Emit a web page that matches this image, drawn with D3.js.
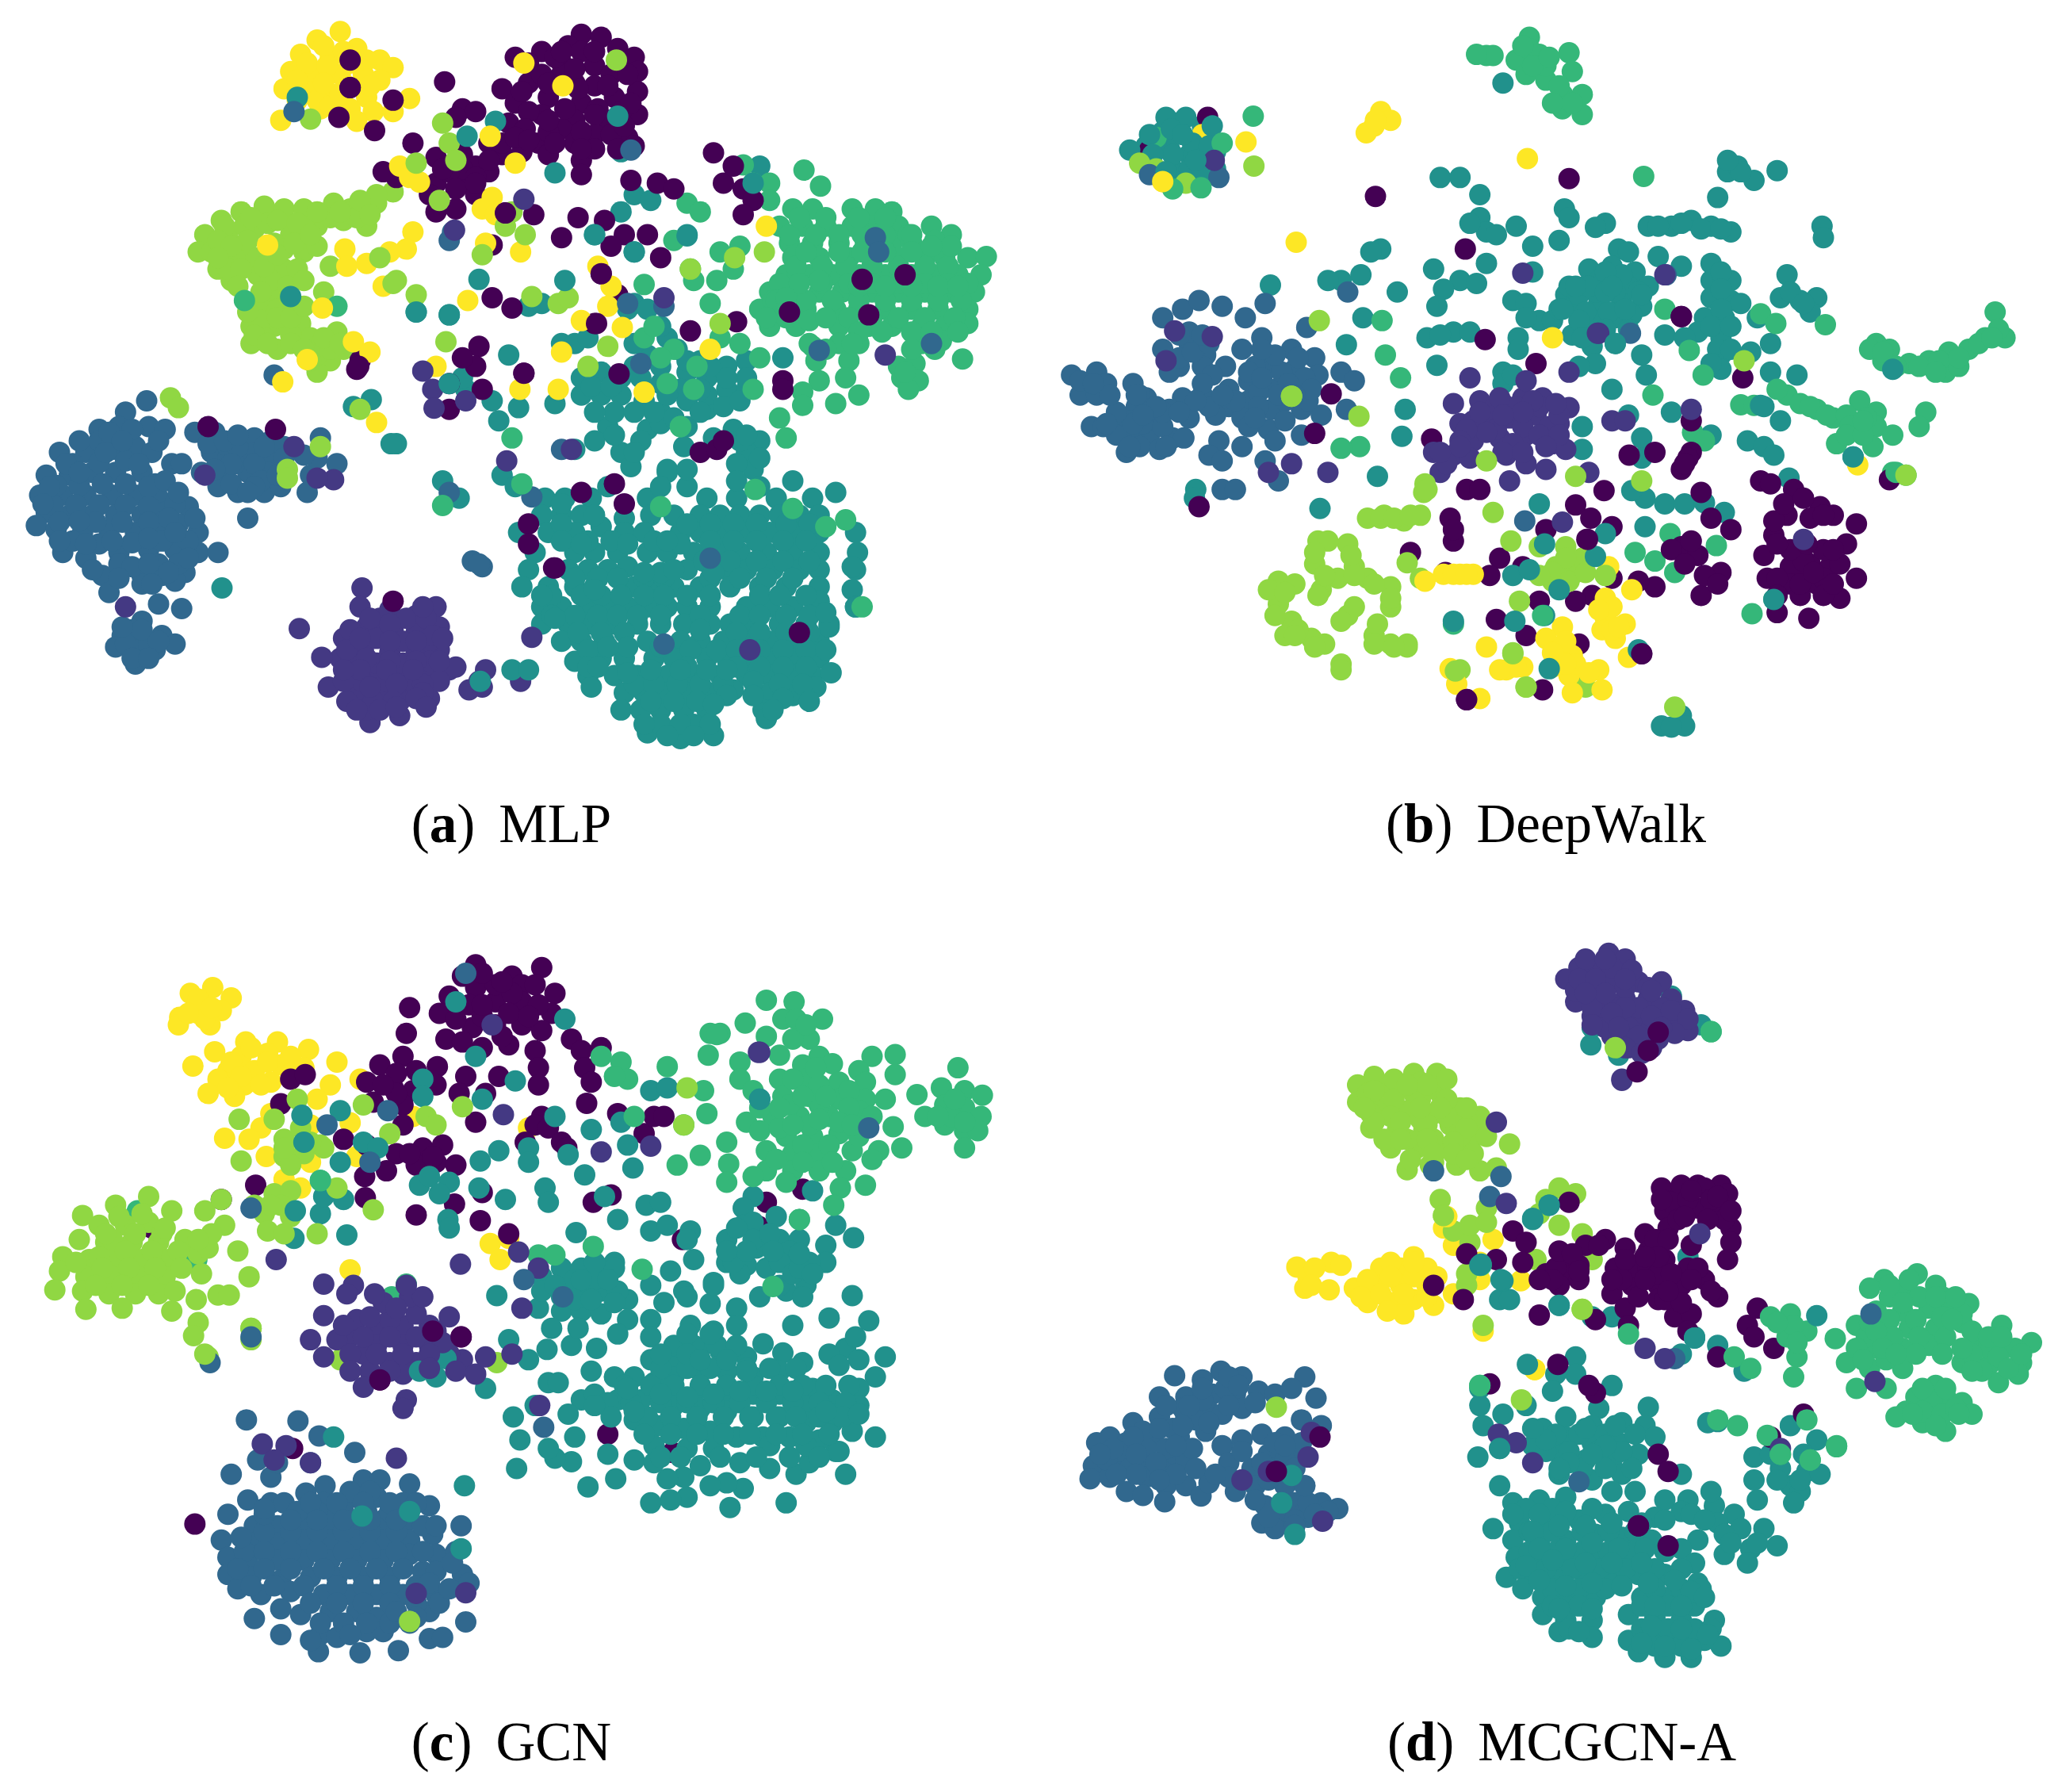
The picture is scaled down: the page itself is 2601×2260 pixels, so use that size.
<!DOCTYPE html>
<html><head><meta charset="utf-8">
<script src="https://cdn.jsdelivr.net/npm/d3@7"></script>
<style>html,body{margin:0;padding:0;background:#fff}svg{display:block}</style></head>
<body><svg id="c" width="2601" height="2260"></svg>
<script>
// ---- Panel (a) MLP
const aTeal=[[825,870],[855,870],[895,870],[920,850],[980,870],[1010,825],[1040,850],[1070,870],[1115,870],[1175,870],[1200,840],[1230,870],[1265,860],[820,900],[850,900],[880,900],[945,905],[985,900],[1020,900],[1060,900],[1090,900],[1120,900],[1150,900],[1180,900],[1210,900],[1240,900],[785,930],[830,930],[870,930],[910,920],[945,930],[975,930],[1030,930],[1060,930],[1095,930],[1130,930],[1165,930],[1200,930],[1240,930],[1295,930],[810,965],[870,965],[900,965],[935,965],[980,965],[1010,965],[1050,965],[1090,965],[1120,965],[1160,965],[1200,965],[1240,965],[1298,965],[800,995],[860,995],[890,995],[920,995],[950,990],[1040,995],[1100,995],[1130,995],[1170,995],[1210,995],[1240,995],[1295,995],[790,1025],[830,1025],[870,1025],[900,1025],[960,1025],[990,1025],[1020,1025],[1060,1025],[1105,1025],[1150,1025],[1190,1025],[1240,1025],[1290,1030],[820,1060],[850,1060],[890,1060],[920,1060],[950,1060],[980,1060],[1010,1060],[1040,1060],[1075,1060],[1130,1060],[1165,1060],[1200,1060],[1240,1050],[1295,1060],[820,1090],[860,1090],[895,1090],[930,1090],[965,1090],[1000,1090],[1035,1090],[1075,1090],[1105,1090],[1140,1090],[1180,1090],[1220,1090],[1255,1090],[850,1120],[880,1120],[915,1120],[980,1120],[1030,1120],[1060,1120],[1095,1120],[1130,1120],[1165,1120],[1200,1120],[1240,1120],[870,1155],[910,1150],[945,1150],[990,1150],[1020,1150],[1070,1150],[1100,1150],[1130,1150],[1165,1150],[1200,1150],[1240,1150],[890,1180],[930,1180],[965,1180],[1010,1180],[1050,1180],[1090,1180],[1130,1180],[1165,1180],[1200,1180],[1230,1180],[1258,1175],[895,1200],[945,1210],[975,1210],[1010,1210],[1040,1210],[1075,1210],[1110,1205],[1165,1210],[1200,1215],[1235,1200],[940,1240],[970,1240],[1000,1240],[1035,1240],[1070,1240],[1155,1240],[980,1280],[1000,1265],[1030,1290],[1050,1265],[1080,1285],[1160,1255],[850,600],[870,600],[890,590],[880,660],[910,650],[940,660],[880,690],[910,690],[940,690],[975,700],[1000,670],[1040,650],[1070,660],[1100,680],[1130,680],[1000,720],[1040,700],[1070,715],[980,750],[1000,740],[1040,745],[920,745],[900,770],[870,785],[940,790],[970,770],[955,815],[1010,820],[1035,780],[1080,765],[1110,750],[1150,770],[1130,790],[1140,820],[1115,810],[1010,590],[1025,610],[1060,630],[980,620],[960,600],[1100,640],[960,530],[1000,570],[950,540],[980,540],[1130,630],[1185,625],[840,705],[785,712],[755,735],[745,700],[725,488],[800,535],[820,530],[770,620],[680,550],[630,545],[705,680],[700,660],[760,830],[780,850],[850,880],[1000,850],[1040,820],[1115,840],[1150,850],[960,340],[940,370],[985,350],[1040,410],[960,440],[940,265],[1150,290],[1140,320],[900,410],[600,775],[592,775],[535,710],[562,698],[670,840],[695,870],[1295,1060],[1290,990],[1255,1095]];
const aTealCore=[[850,915],[1040,915],[1075,915],[1110,915],[1145,915],[1190,915],[1225,915],[850,945],[890,945],[925,945],[1075,945],[1110,945],[1145,945],[1185,945],[1220,945],[1065,980],[1105,980],[1145,980],[1185,980],[1225,980],[870,1010],[905,1010],[935,1010],[975,1010],[1005,1010],[1075,1010],[1120,1010],[1160,1010],[1200,1010],[835,1040],[880,1040],[910,1040],[940,1040],[975,1040],[1005,1040],[1040,1040],[1075,1040],[1150,1040],[1180,1040],[1220,1040],[835,1075],[870,1075],[905,1075],[935,1075],[965,1075],[1000,1075],[1060,1075],[1120,1075],[1150,1075],[1190,1075],[1225,1075],[875,1105],[910,1105],[945,1105],[1115,1105],[1150,1105],[1190,1105],[1225,1105],[890,1135],[1045,1135],[1085,1135],[1115,1135],[1150,1135],[1185,1135],[1220,1135],[890,1165],[1040,1165],[1115,1165],[1150,1165],[1185,1165],[1220,1165],[960,1195],[990,1195],[1025,1195],[1060,1195],[1095,1195],[1180,1195],[1215,1195],[985,1225],[1020,1225],[1055,1225],[895,675],[925,675],[1030,680],[1070,690],[1060,720],[1020,730],[990,720]];
const aTealFill=[[1060,1100],[1000,1130],[950,1130],[920,1130],[905,1165],[950,1175],[985,1170],[1030,1170],[1070,1170],[1100,1170],[1100,1215],[1080,1230],[1140,1190],[1250,1135],[1140,1215],[1185,1220],[1225,1225],[900,1030],[840,1080],[1250,1070],[1080,1000],[1000,1000],[975,1000],[1020,995],[900,900],[880,950],[950,950],[990,945],[1030,950],[1010,945],[820,1040],[1170,1240],[1030,1265],[1075,1265],[975,1265],[1010,1285],[1050,1285],[930,720],[960,720],[900,720],[930,760],[960,790],[1010,690],[1060,680],[1095,710],[1130,660],[1120,700],[1100,660],[1075,640],[1040,630],[1000,640],[970,660],[960,640],[1120,770],[1130,760],[1150,800]];
const aBlue=[[222,700],[190,720],[150,750],[180,745],[225,745],[250,750],[90,790],[130,790],[170,785],[205,780],[230,790],[260,810],[70,830],[105,830],[140,825],[175,825],[215,825],[235,845],[60,865],[95,865],[130,865],[170,865],[205,865],[240,870],[70,895],[105,900],[140,900],[175,900],[215,900],[250,895],[55,918],[85,925],[125,930],[165,925],[205,930],[245,930],[285,885],[300,930],[95,965],[130,975],[180,965],[225,960],[265,960],[300,965],[155,1005],[185,985],[215,1005],[245,1005],[280,1000],[165,1035],[215,1020],[265,1015],[330,965],[275,810],[295,755],[325,755],[320,790],[345,800],[385,765],[410,770],[380,790],[410,795],[340,830],[375,825],[405,825],[360,860],[400,860],[375,905],[305,825],[425,850],[465,860],[470,830],[480,800],[510,810],[485,765],[460,795],[240,1055],[215,1085],[275,1063],[185,1110],[215,1115],[245,1110],[265,1125],[175,1130],[205,1145],[235,1135],[205,1160],[730,990],[715,980],[330,850]];
const aBlueCore=[[150,770],[110,810],[150,808],[190,805],[85,848],[120,848],[155,845],[190,845],[225,850],[80,882],[115,882],[150,882],[190,882],[225,885],[265,880],[90,912],[145,912],[185,912],[225,912],[270,915],[110,945],[150,950],[200,948],[245,945],[285,945],[240,985],[270,985],[355,810],[385,810],[345,780],[395,840],[360,780],[430,780],[200,1130],[225,1125],[200,1100]];
const aBlueFill=[[200,750],[165,755],[240,770],[120,770],[100,810],[75,850],[65,880],[120,825],[160,790],[185,770],[210,810],[250,840],[270,860],[255,905],[225,940],[265,930],[295,905],[120,910],[90,945],[130,950],[170,945],[180,985],[140,995],[200,990],[225,985],[255,1000],[285,975],[230,1020],[180,1010],[315,775],[340,770],[360,760],[400,780],[430,800],[385,850],[350,845],[375,860],[420,830],[350,810],[325,820],[190,1125],[215,1100],[240,1120],[200,1150],[225,1150],[185,1095]];
const aPurple=[[548,1027],[545,1060],[590,1065],[660,1060],[630,1075],[520,1115],[555,1095],[595,1100],[630,1105],[665,1095],[515,1150],[550,1135],[590,1140],[630,1140],[665,1135],[530,1175],[565,1175],[605,1175],[645,1170],[680,1170],[540,1210],[580,1210],[620,1205],[650,1220],[525,1225],[560,1262],[605,1250],[555,1240],[497,1200],[453,1098],[487,1148],[805,1113],[710,1205],[735,1170],[730,1200],[788,1190],[690,1165]];
const aPurpleCore=[[575,1080],[615,1080],[645,1080],[535,1130],[570,1115],[610,1120],[650,1120],[535,1158],[570,1158],[610,1158],[650,1155],[548,1190],[585,1190],[625,1190],[665,1190],[565,1225],[605,1225],[640,1195],[520,1190],[560,1080],[530,1100],[590,1090],[640,1060],[655,1110],[670,1115],[525,1135],[545,1115],[590,1120],[630,1120],[555,1150],[590,1155],[630,1155],[665,1155],[545,1170],[585,1170],[625,1170],[560,1200],[600,1195],[640,1210],[595,1225],[630,1220],[520,1170],[540,1240],[575,1240],[600,1235],[645,1235]];
const aYellow=[[515,55],[480,70],[540,85],[455,95],[500,100],[575,105],[595,118],[440,125],[475,130],[515,130],[550,130],[575,140],[430,155],[470,160],[505,165],[555,170],[485,190],[530,190],[565,195],[595,195],[620,172],[540,212],[425,210],[480,175],[490,80],[520,90],[465,110],[495,115],[530,110],[555,105],[450,140],[490,145],[525,150],[560,150],[450,175],[500,185],[515,165]];
const aGreen=[[1217,297],[1242,325],[1200,365],[1230,365],[1290,365],[1325,365],[1350,370],[1180,395],[1215,395],[1250,395],[1290,395],[1320,395],[1360,395],[1410,395],[1195,425],[1230,425],[1270,425],[1310,425],[1350,425],[1380,425],[1440,410],[1200,450],[1240,450],[1285,450],[1320,450],[1360,450],[1400,450],[1430,450],[1465,450],[1493,448],[1190,480],[1225,480],[1260,480],[1300,480],[1340,480],[1380,480],[1415,480],[1450,480],[1485,480],[1165,510],[1200,510],[1240,510],[1275,510],[1320,510],[1360,510],[1400,510],[1440,510],[1475,510],[1150,540],[1185,540],[1220,540],[1265,540],[1300,540],[1340,540],[1380,540],[1420,540],[1465,540],[1165,570],[1205,570],[1270,570],[1315,570],[1350,570],[1395,570],[1430,570],[1465,565],[1230,605],[1270,600],[1300,600],[1395,600],[1425,595],[1235,630],[1285,630],[1360,640],[1385,635],[1457,627],[1240,665],[1280,660],[1365,660],[1390,665],[1215,685],[1300,690],[1265,705],[1375,680],[1215,708],[1090,440],[1120,430],[1085,490],[1110,470],[1050,490],[1045,470],[1040,355],[1060,370],[1020,420],[1075,530],[1090,590],[1120,600],[1150,625],[1180,730],[1190,765],[1140,680],[1030,745],[1050,680],[1010,670],[975,590],[990,570],[1020,610],[1055,640],[1125,288],[1140,320],[1165,320],[975,497],[1000,625],[1165,350]];
const aGreenCore=[[1195,410],[1235,410],[1270,410],[1305,410],[1340,410],[1375,410],[1205,465],[1245,465],[1280,465],[1320,465],[1360,465],[1400,465],[1435,465],[1180,495],[1245,495],[1285,495],[1320,495],[1360,495],[1400,495],[1435,495],[1465,495],[1170,525],[1220,525],[1260,525],[1300,525],[1340,525],[1380,525],[1420,525],[1455,525],[1190,555],[1285,555],[1320,555],[1360,555],[1400,555],[1445,555],[1210,380],[1250,380],[1300,380],[1340,380],[1380,410],[1415,420],[1440,430],[1220,440],[1270,440],[1305,440],[1340,440],[1380,440],[1410,430],[1240,490],[1210,495],[1300,500],[1340,500],[1380,500],[1420,500],[1450,500],[1225,560],[1250,555],[1300,580],[1335,580],[1380,580],[1410,580],[1450,580],[1290,600],[1250,610],[1415,610],[1380,610],[1370,650],[1175,525],[1160,555],[1190,520],[1225,600]];
const aDark=[[880,60],[910,65],[860,80],[820,90],[935,85],[960,100],[780,100],[800,110],[850,110],[900,115],[965,125],[760,155],[800,145],[850,130],[900,150],[965,160],[780,180],[830,170],[880,180],[930,170],[820,200],[870,210],[920,210],[965,200],[770,215],[850,225],[900,235],[950,240],[815,250],[870,250],[960,255],[880,280],[790,265],[830,270],[880,305],[700,190],[720,195],[690,205],[660,275],[700,270],[720,290],[700,320],[740,300],[760,270],[740,250],[660,320],[650,340],[660,370],[690,365],[720,340],[673,143],[625,250],[600,310],[580,300],[530,153],[595,175],[567,228],[513,205],[530,105],[1080,267],[1095,320],[1125,330],[1110,290],[1140,350],[1125,375],[955,315],[995,320],[1020,330],[875,380],[915,385],[945,410],[980,410],[925,430],[850,415],[1000,450],[910,478],[935,515],[808,375],[765,372],[745,428],[745,520],[775,538],[900,565],[1045,578],[1115,562],[1185,665],[1185,680],[725,605],[720,640],[700,625],[730,680],[680,670],[793,652],[545,630],[540,645],[1305,488],[1370,480],[1195,545],[1315,550],[1060,790],[1085,785],[1095,770],[840,992],[800,915],[945,880],[930,845],[880,860],[595,1050],[1210,1105],[315,745],[417,750],[800,950],[680,715]];
const aDarkCore=[[880,90],[840,100],[820,130],[870,145],[925,130],[790,160],[830,145],[875,155],[920,150],[940,195],[800,195],[855,190],[905,190],[795,225],[830,230],[880,230],[925,235],[840,250],[900,260],[935,260],[830,210],[760,250],[780,240],[740,280],[700,295],[680,300],[670,295],[720,310],[690,330],[720,320],[850,90],[870,120],[900,90],[950,130],[955,180],[900,200],[945,220],[880,260]];
const aLime=[[400,360],[365,370],[335,385],[310,410],[300,440],[345,415],[385,400],[430,365],[460,365],[505,355],[530,365],[570,355],[595,335],[555,395],[520,385],[480,395],[440,410],[405,450],[370,445],[330,470],[350,490],[390,480],[430,470],[460,440],[450,470],[480,430],[415,510],[395,530],[440,535],[380,570],[415,570],[455,565],[380,600],[420,610],[470,590],[500,600],[500,630],[480,650],[520,610],[500,465],[490,510],[370,395],[405,390],[340,395],[375,420],[415,425],[320,440],[355,450],[390,450],[345,470],[430,435],[410,490],[420,540],[395,560],[400,590],[440,585],[480,620],[500,610],[510,580],[460,395],[500,380],[540,380],[570,340],[330,420],[350,430],[380,380],[420,385],[450,390],[480,370],[515,370],[545,350],[560,375],[365,470],[400,465],[420,445],[445,425],[470,410],[330,450],[360,500],[395,510],[435,500],[460,490],[385,585],[405,600],[440,600],[460,610],[490,590],[515,600],[470,630],[420,555],[440,555],[460,535],[375,545]];
const aMix=[[6,605,290],[6,620,310],[6,635,318],[6,745,345],[6,730,365],[6,750,375],[6,625,405],[6,615,435],[6,590,440],[6,522,435],[6,525,465],[6,555,460],[6,580,500],[6,708,525],[6,788,440],[6,735,425],[6,905,465],[6,925,500],[6,920,535],[6,880,560],[6,535,597],[6,560,615],[6,850,615],[6,780,285],[6,845,680],[6,787,680],[6,570,738],[6,975,685],[6,660,640],[5,670,215],[5,680,250],[5,690,280],[5,630,285],[5,933,105],[5,795,410],[5,765,395],[5,730,445],[5,665,350],[5,775,370],[5,600,490],[5,630,515],[5,575,450],[5,595,495],[5,805,518],[5,845,530],[5,860,520],[5,675,597],[5,920,605],[5,890,640],[5,545,715],[5,258,695],[5,270,712],[5,435,820],[5,435,835],[5,485,780],[5,1112,450],[5,1157,440],[5,1045,470],[5,1090,565],[5,470,208],[3,450,170],[2,445,195],[3,707,238],[3,750,212],[3,935,203],[3,840,302],[3,1140,320],[3,1040,412],[3,900,410],[3,960,440],[3,440,518],[3,630,545],[3,680,550],[3,855,490],[4,370,525],[4,510,535],[2,955,262],[2,685,405],[2,680,420],[2,950,530],[2,1005,535],[2,970,635],[2,1325,415],[2,1330,440],[2,1240,612],[2,1410,600],[2,850,785],[2,805,868],[2,1005,1125],[2,1075,975],[2,680,860],[2,725,985],[2,415,655],[1,793,348],[1,688,402],[1,1005,520],[1,1340,620],[1,640,648],[1,655,680],[1,657,713],[1,705,700],[1,767,805],[1,505,838],[1,480,835],[1,445,780],[1,1135,1135],[1,725,1190],[1,865,785],[1,310,830],[1,190,1060],[3,727,1190],[3,775,1170],[3,800,1170],[3,680,670],[3,336,1027],[4,670,883],[4,1000,885],[4,1200,888],[4,790,845],[4,775,765],[4,1250,920],[4,1280,908],[4,1305,1060],[4,1143,855],[4,1030,745],[6,852,150],[6,793,110],[6,742,238],[6,465,628],[6,428,667],[6,488,538],[6,405,428],[6,1075,610],[6,1160,395],[6,942,572],[0,530,153],[0,800,245],[0,765,372],[0,903,565],[0,937,653],[0,793,652],[0,838,992],[0,543,640],[0,910,478]];
// ---- Panel (b) DeepWalk
const bTeal=[[715,145],[620,310],[650,310],[680,340],[680,380],[690,405],[705,410],[735,395],[665,390],[690,460],[760,430],[800,420],[610,470],[650,490],[675,495],[625,505],[615,535],[730,525],[750,530],[770,560],[750,555],[640,580],[600,590],[620,585],[665,580],[738,590],[738,610],[715,650],[715,670],[808,365],[815,380],[870,390],[855,397],[935,395],[970,395],[1000,385],[1030,395],[1060,405],[1040,345],[1055,300],[1070,290],[1095,315],[1130,298],[1198,395],[1200,415],[950,448],[890,435],[905,440],[845,470],[880,465],[915,475],[985,465],[810,515],[840,500],[870,495],[905,500],[935,500],[825,530],[860,530],[895,530],[925,535],[850,560],[885,555],[790,560],[820,585],[850,605],[885,600],[925,620],[855,635],[880,680],[932,655],[1030,460],[1030,490],[1060,490],[1030,520],[1060,525],[1075,530],[1020,555],[1050,555],[1010,580],[1045,590],[1045,620],[1045,645],[960,585],[990,590],[1100,555],[1120,600],[1090,615],[1120,650],[1160,655],[1145,480],[1135,520],[1165,525],[1190,520],[1180,545],[1030,760],[970,720],[905,725],[1085,770],[1110,780],[1125,795],[1135,735],[1110,710],[925,765],[925,800],[930,870],[960,880],[990,880],[1020,878],[910,857],[1050,895],[1245,798],[1148,835],[530,435],[515,440],[500,480],[470,490],[450,490],[555,510],[503,555],[478,602],[615,638],[567,715],[562,762],[525,832],[438,888],[363,498],[250,855],[248,870],[835,745],[835,785],[830,640],[800,540],[730,655],[770,880],[955,1268],[985,1250],[990,1268],[970,1270],[855,510],[885,510],[920,510],[830,515],[840,545],[875,545],[910,550],[830,560],[870,575],[905,575],[860,490],[895,480],[1045,475],[1045,505],[1045,540],[1030,570],[1060,570],[1040,610],[1060,610],[1030,635],[1015,400],[985,390],[950,395],[1045,400],[1075,300],[1055,280],[1150,510],[1170,530],[200,230],[220,215],[260,220],[240,270],[210,260],[190,250],[220,300],[250,310],[280,265],[270,300],[175,255],[845,500],[815,500],[805,540],[825,500],[870,510],[900,540],[925,515],[870,475],[880,500],[835,590]];
const bBlue=[[62,655],[100,650],[75,690],[115,670],[155,670],[175,695],[92,745],[130,740],[160,710],[185,735],[150,760],[180,760],[215,765],[145,790],[195,785],[232,765],[200,555],[230,540],[255,525],[290,535],[200,610],[240,600],[225,640],[265,620],[295,640],[325,555],[350,590],[320,610],[395,610],[430,625],[360,640],[400,645],[435,655],[330,665],[370,680],[410,680],[330,700],[365,715],[410,715],[440,725],[300,710],[260,690],[230,695],[240,730],[280,725],[320,730],[360,750],[370,770],[410,760],[320,780],[285,770],[270,795],[290,805],[290,855],[310,855],[355,805],[375,840],[418,572],[355,530],[480,510],[470,650],[490,665],[478,715],[260,640],[210,650],[340,640],[380,650],[415,660],[345,685],[385,700],[345,710],[385,735],[420,700],[300,680],[270,710],[330,745],[225,625],[245,615],[150,735],[170,740],[200,745],[165,780],[130,760],[110,745],[75,665],[165,690],[275,655],[270,600],[240,580],[225,585],[260,585],[330,650],[370,620],[350,610],[405,625],[350,660],[390,670],[425,680],[310,700],[340,730],[375,690],[400,690],[290,690],[260,670],[250,700],[210,715],[200,720],[225,720],[155,740],[180,715],[130,720],[100,690],[120,690],[95,670],[160,690],[115,740],[190,710],[170,725],[150,780],[205,780]];
const bPurple=[[665,660],[715,705],[680,700],[745,695],[775,695],[815,712],[815,650],[750,665],[650,740],[690,735],[725,730],[765,725],[800,740],[670,770],[710,765],[750,760],[790,775],[720,795],[750,810],[780,820],[640,705],[610,790],[640,795],[665,800],[620,825],[725,840],[880,735],[900,735],[810,785],[845,825],[395,810],[360,825],[450,825],[275,588],[218,578],[205,630],[1000,715],[860,582],[700,715],[735,710],[770,710],[670,735],[705,750],[745,745],[785,745],[690,755],[730,775],[770,760],[680,720],[710,695],[760,700],[800,725],[795,705],[660,750],[745,720],[800,760],[780,780],[715,790],[745,790],[715,725],[650,770],[630,810],[620,790],[650,780]];
const bGreen=[[690,97],[755,65],[735,105],[770,95],[815,92],[750,130],[780,140],[820,125],[805,165],[835,165],[805,190],[835,200],[928,308],[1105,548],[1128,565],[1203,567],[1280,600],[1300,610],[1290,630],[1330,635],[1360,630],[1390,615],[1420,610],[1445,590],[1475,590],[1460,545],[1385,650],[1405,640],[1355,720],[1345,745],[1145,690],[1165,705],[1190,715],[1215,730],[1255,700],[1280,720],[1250,750],[1280,745],[1220,775],[1275,780],[1305,760],[1075,707],[1095,708],[960,540],[997,612],[1018,655],[560,660],[537,620],[532,560],[337,203],[498,780],[470,783],[942,690],[1002,755],[1020,770],[1325,830],[1305,825],[968,932],[1038,953],[915,965],[945,980],[975,1000],[1092,1072],[1125,1047],[640,1090],[755,85],[780,115],[745,80],[760,115],[800,150],[820,180],[790,180],[785,100],[700,97],[675,95],[1310,640],[1345,640],[1375,630],[1435,600],[1465,575],[1455,590],[1270,610],[1405,625],[1290,615],[1370,650],[1180,710],[1205,725],[1235,725],[1240,745],[1265,730],[1235,760],[1260,760],[1130,680]];
const bDark=[[815,312],[522,343],[658,435],[985,553],[688,593],[765,635],[455,688],[430,757],[607,767],[660,855],[680,855],[906,795],[945,790],[1000,735],[1000,790],[985,820],[868,857],[825,882],[848,905],[635,905],[640,945],[575,965],[628,1000],[710,975],[695,1005],[780,925],[842,942],[880,920],[770,1050],[705,1082],[750,1110],[830,1125],[1105,840],[1155,855],[1145,900],[1195,885],[1215,900],[1250,915],[1125,935],[1110,970],[1115,1010],[1150,990],[1180,985],[1210,990],[1150,1020],[1190,1020],[1225,1045],[1130,1070],[1178,1080],[1235,950],[1015,860],[1030,905],[1060,925],[985,955],[1010,970],[1045,1000],[1015,1040],[970,960],[945,1025],[920,1015],[880,1010],[850,1040],[825,1050],[745,990],[660,1222],[925,1142],[1078,660],[1250,1010],[1300,838],[255,885],[180,262],[268,205],[775,1205],[835,1175],[1175,1000],[1200,1010],[1170,980],[1150,960],[1200,960],[1225,985],[1130,1010],[1130,1040],[1165,1040],[1200,1040],[1125,910],[1140,880],[1180,905],[1200,900],[1130,950],[1000,945],[1020,1005],[990,985],[1040,1020],[995,800],[990,810],[640,925],[1120,845],[1170,870],[1165,1020],[1215,1020],[1185,1000],[1215,960],[1175,950]];
const bLime=[[435,945],[480,950],[430,985],[490,990],[375,1015],[440,1030],[510,1010],[545,1025],[375,1055],[435,1040],[545,1060],[395,1085],[480,1075],[385,1110],[425,1115],[445,1125],[520,1110],[545,1125],[570,1130],[470,1160],[510,905],[535,900],[565,910],[590,900],[597,845],[590,1010],[570,983],[690,805],[700,895],[825,832],[925,840],[727,945],[770,955],[810,955],[795,990],[825,1000],[790,1015],[835,975],[740,1050],[730,1140],[650,1170],[750,1200],[840,1200],[570,1125],[437,560],[395,692],[497,727],[338,290],[975,1235],[870,1005],[1080,630],[450,945],[430,965],[485,970],[465,1010],[400,1020],[360,1030],[520,1020],[445,1005],[490,1005],[385,1035],[545,1045],[370,1075],[405,1100],[400,1110],[490,1060],[470,1085],[525,1090],[520,1125],[550,1130],[430,1130],[470,1170],[530,905],[550,905],[575,900],[595,860],[600,855],[810,975],[790,1000],[815,1015],[770,1005],[840,1000]];
const bYellow=[[530,195],[545,210],[520,220],[508,232],[752,277],[402,423],[625,1003],[650,1003],[670,1003],[597,1015],[870,1045],[870,1080],[900,1090],[865,1100],[885,1115],[805,1095],[780,1115],[800,1135],[820,1145],[790,1165],[815,1180],[820,1210],[860,1170],[865,1205],[690,1130],[720,1170],[745,1165],[910,1030],[645,1195],[635,1168],[680,1220],[1252,812],[790,590],[326,248],[200,317],[260,235],[905,1148],[875,990],[810,1120],[825,1160],[810,1160],[790,1140],[845,1175],[880,1060],[880,1100],[860,1065],[890,1095],[735,1165],[710,1170],[640,1003],[660,1003],[522,210]];
const bMix=[[3,150,262],[3,205,205],[3,235,205],[4,190,240],[3,180,235],[3,215,270],[3,245,250],[3,275,220],[3,270,255],[3,185,270],[3,240,295],[3,280,295],[3,260,300],[5,165,285],[5,190,295],[5,235,320],[2,180,305],[2,285,310],[4,215,330],[4,258,328],[4,290,250],[1,278,280],[3,213,225],[3,250,280],[3,205,300],[3,230,235],[6,200,317],[3,760,475],[1,745,477],[1,1170,942],[3,1125,1047],[3,778,1075],[3,733,1085],[3,785,1168],[3,800,1030],[3,778,950],[3,730,1005],[3,755,995],[3,855,972],[3,870,932],[3,930,920],[3,640,1085],[3,920,1135],[4,775,1075],[5,870,1005],[5,730,1142],[2,748,910],[1,805,912],[2,962,480],[2,908,582],[1,858,582],[1,960,480],[5,643,1172],[5,750,1200],[0,660,1222],[0,925,1142],[0,843,942],[3,885,600],[4,1260,735],[3,1245,798],[3,1305,645],[3,1105,708],[4,1310,825],[5,1325,830],[0,985,553],[5,395,692]];
// ---- Panel (c) GCN
const cTeal=[[690,185],[855,215],[720,280],[640,320],[640,350],[730,355],[780,323],[895,408],[840,385],[985,340],[1010,335],[940,395],[950,435],[958,475],[885,487],[755,445],[727,463],[800,440],[800,465],[860,452],[825,510],[830,535],[765,530],[725,510],[635,505],[650,490],[680,500],[665,520],[678,565],[680,580],[525,592],[445,598],[485,555],[520,530],[445,550],[490,525],[515,465],[915,525],[935,565],[978,540],[1000,535],[985,585],[1010,575],[1045,585],[872,588],[1050,635],[1015,655],[1035,690],[1080,675],[1075,712],[1115,720],[1150,700],[1190,690],[1220,680],[1290,698],[1255,737],[1315,742],[1200,750],[1155,782],[1115,750],[1185,798],[1215,815],[1280,790],[1340,805],[1325,840],[1325,945],[1280,1010],[1205,1010],[1190,1060],[1105,1068],[1125,1035],[1100,1025],[1075,1030],[1040,1050],[1015,1055],[985,1060],[1035,1015],[1010,1018],[890,1032],[932,1018],[782,1000],[865,988],[840,982],[830,965],[787,950],[777,910],[810,890],[752,698],[770,775],[735,860],[800,810],[830,850],[828,792],[845,850],[865,785],[903,790],[895,830],[880,880],[860,905],[870,945],[920,975],[960,985],[990,990],[1060,995],[1120,990],[1165,1000],[1225,990],[1265,970],[820,665],[850,650],[880,650],[910,650],[930,640],[850,685],[880,690],[910,690],[950,705],[815,720],[850,725],[880,725],[910,730],[950,740],[985,740],[835,755],[875,755],[935,765],[985,770],[985,680],[1005,710],[1040,700],[1140,525],[1125,545],[1125,575],[1100,600],[1180,600],[1145,615],[1130,645],[1100,640],[1120,660],[1080,680],[1160,650],[1190,640],[1215,650],[1250,610],[1250,640],[1265,575],[1292,597],[1230,515],[1140,570],[1175,560],[1210,600],[1180,680],[1215,700],[1045,750],[1080,760],[1130,805],[1060,790],[1090,795],[1020,810],[985,810],[1020,840],[1060,830],[1100,830],[1140,840],[1180,830],[1230,860],[1255,800],[1295,770],[1300,810],[1270,820],[1300,860],[930,840],[960,840],[990,850],[1060,860],[1100,865],[1140,870],[1180,870],[1220,890],[1260,880],[1300,890],[900,870],[935,880],[970,880],[1020,890],[1060,895],[1100,900],[1140,910],[1180,910],[1220,920],[1260,920],[1290,935],[960,915],[995,925],[1035,930],[1075,935],[1115,945],[1155,945],[1195,945],[1240,950],[1270,970],[1220,960],[1040,600],[1165,960],[1080,965],[990,960],[1040,965]];
const cTealCore=[[1000,825],[1040,825],[1075,825],[1130,825],[1165,825],[1205,825],[945,855],[985,855],[1020,855],[1060,855],[1100,855],[1140,855],[1180,855],[1215,855],[1250,855],[1285,855],[920,885],[955,885],[1000,885],[1040,885],[1080,885],[1120,885],[1160,885],[1200,885],[1240,885],[1280,885],[925,910],[980,910],[1015,910],[1055,910],[1095,910],[1135,910],[1175,910],[1205,910],[1240,910],[1275,910],[975,940],[1015,940],[1055,940],[1095,940],[1135,940],[1175,940],[1215,940],[1255,940],[1000,980],[1030,980],[1090,980],[1145,980],[1195,980],[1240,980],[1020,785],[1050,785],[1085,785],[1115,785],[1040,765],[1075,765],[820,690],[870,670],[900,670],[870,705],[895,705],[935,690],[930,650],[1140,600],[1165,590],[1195,620],[1225,640],[1180,640],[1200,660],[1110,640],[1115,580],[1000,800],[1040,800],[1100,810],[1060,810],[1130,830],[950,860],[900,890],[1300,905],[960,900],[1250,900],[1040,875],[1080,870],[1160,865],[1200,865],[1120,865],[1000,870],[1210,650],[1170,620],[1130,620],[1100,620],[1210,625],[1230,660],[900,640],[840,680],[850,700],[880,670],[920,670],[930,710]];
const cBlue=[[373,915],[451,917],[483,943],[537,972],[350,1010],[345,1080],[335,1125],[620,1027],[463,1043],[492,1030],[550,1020],[575,1020],[375,1055],[410,1060],[430,1060],[490,1060],[530,1050],[570,1050],[610,1060],[650,1065],[385,1100],[420,1100],[460,1090],[500,1090],[540,1090],[580,1090],[620,1090],[380,1130],[420,1130],[460,1125],[500,1125],[540,1125],[580,1125],[620,1125],[655,1115],[698,1100],[345,1155],[375,1165],[420,1160],[460,1160],[500,1160],[540,1160],[580,1160],[620,1150],[660,1150],[690,1145],[345,1185],[380,1190],[425,1195],[470,1190],[510,1190],[550,1190],[590,1190],[640,1180],[700,1185],[710,1200],[360,1210],[395,1220],[440,1215],[490,1220],[530,1220],[570,1220],[610,1220],[660,1220],[650,1250],[425,1245],[455,1255],[500,1250],[540,1250],[570,1260],[385,1262],[705,1268],[650,1297],[670,1295],[425,1290],[485,1290],[510,1295],[555,1285],[580,1285],[482,1320],[545,1322],[603,1318],[390,985],[410,1015],[420,990],[470,990],[450,1075],[480,1075],[520,1075],[555,1075],[590,1075],[400,1110],[440,1110],[480,1110],[520,1110],[560,1110],[600,1110],[370,1145],[400,1145],[440,1145],[480,1145],[520,1145],[560,1145],[600,1145],[640,1145],[360,1175],[400,1175],[440,1175],[490,1175],[530,1175],[570,1175],[610,1175],[380,1205],[415,1205],[460,1205],[510,1205],[550,1205],[590,1205],[630,1205],[470,1235],[510,1235],[550,1235],[590,1235],[630,1235],[485,1270],[520,1270],[555,1270],[665,1235],[660,1180],[685,1165],[530,1040],[560,1040],[470,1060],[510,1060],[550,1060],[590,1060],[630,1060],[440,1090],[480,1090],[520,1090],[560,1090],[600,1090],[530,1290],[590,1270],[620,1270],[470,1300],[400,1080],[365,1120],[400,1070],[640,1100],[650,1200],[630,1260],[600,1250],[680,1210],[660,1100]];
const cGreen=[[1160,182],[1202,185],[1128,222],[1090,240],[1075,240],[1072,278],[1185,215],[1205,215],[1245,215],[1160,245],[1225,250],[1240,280],[1120,290],[1180,278],[1320,280],[1355,277],[1120,320],[1215,295],[1260,293],[1300,305],[1355,312],[1140,340],[1180,320],[1220,320],[1270,325],[1310,325],[1185,350],[1225,350],[1270,355],[1310,355],[1340,355],[1388,347],[1170,385],[1210,385],[1255,385],[1300,375],[1320,385],[1130,395],[1150,410],[1190,420],[1230,420],[1270,415],[1352,403],[1100,430],[1160,445],[1200,450],[1240,450],[1290,445],[1330,445],[1365,440],[1103,468],[1060,453],[1025,470],[1160,480],[1200,480],[1240,480],[1280,480],[1320,460],[1100,500],[1140,490],[1190,500],[1310,505],[1272,510],[1010,298],[1070,380],[1065,340],[1085,242],[910,280],[940,290],[950,320],[930,315],[1450,300],[1425,335],[1460,340],[1487,348],[1400,385],[1430,365],[1460,370],[1485,385],[1430,400],[1460,410],[1480,410],[1460,440],[1035,400],[1262,540],[960,385],[1210,565],[815,627],[840,627],[898,612],[972,652],[1170,682],[485,497],[208,550],[298,635],[593,700],[615,678],[1200,320],[1240,330],[1195,365],[1240,365],[1285,340],[1285,370],[1180,405],[1225,400],[1270,395],[1215,435],[1255,435],[1175,460],[1215,465],[1260,465],[1300,420],[1150,370],[1200,250],[1220,225],[1235,300],[1440,385],[1445,355],[1460,395],[1420,385],[1200,400],[1240,390],[1180,370],[1290,400],[1215,350],[1250,350]];
const cDark=[[720,120],[700,140],[820,125],[775,140],[680,175],[720,160],[790,155],[840,170],[620,195],[665,205],[710,190],[750,185],[790,185],[835,205],[615,240],[675,250],[715,230],[750,225],[790,225],[820,235],[865,250],[730,265],[770,260],[810,270],[880,270],[910,265],[885,300],[895,325],[815,300],[815,330],[610,280],[575,295],[630,305],[662,298],[705,315],[755,315],[660,330],[555,325],[595,335],[625,340],[695,345],[735,345],[440,320],[462,312],[565,360],[610,365],[425,363],[720,395],[888,362],[820,385],[810,400],[830,405],[935,380],[975,415],[990,385],[1005,385],[850,430],[858,440],[795,430],[610,400],[640,440],[670,435],[520,425],[555,435],[600,450],[630,470],[660,465],[690,470],[585,480],[552,490],[387,505],[553,527],[630,557],[688,538],[727,567],[730,518],[925,522],[898,535],[1033,600],[1160,535],[1148,577],[1215,512],[655,760],[698,770],[575,845],[920,940],[1018,972],[295,1097],[770,590],[443,965],[230,580],[335,530],[750,155],[775,170],[815,190],[770,205],[730,210],[690,215],[800,210],[760,245],[700,255],[810,155],[760,150],[730,190],[600,310],[600,345],[580,330],[730,135],[655,455],[620,450]];
const cLime=[[225,525],[175,540],[125,558],[260,550],[150,575],[190,575],[225,570],[120,600],[160,605],[200,605],[240,605],[280,600],[95,630],[135,635],[175,635],[215,635],[255,635],[300,625],[315,615],[90,655],[130,665],[170,665],[210,665],[250,665],[305,660],[83,688],[125,690],[165,695],[205,695],[240,695],[185,720],[130,722],[260,725],[297,705],[360,620],[377,665],[330,697],[347,697],[300,745],[293,768],[380,755],[315,805],[310,550],[340,575],[335,530],[320,590],[362,390],[365,463],[415,390],[430,425],[450,355],[455,405],[485,435],[385,540],[415,520],[440,515],[400,555],[440,560],[405,585],[480,590],[430,590],[430,455],[460,450],[490,440],[510,510],[565,548],[550,365],[645,385],[700,368],[590,415],[660,400],[1040,335],[1035,400],[515,810],[752,815],[170,600],[205,590],[245,590],[150,630],[190,620],[230,620],[270,620],[115,640],[155,650],[195,650],[235,650],[275,650],[145,680],[185,680],[225,680],[265,690],[180,560],[215,555],[250,580],[160,590],[300,600],[425,540],[410,540],[470,430],[440,470],[430,440]];
const cYellow=[[322,160],[288,170],[350,178],[300,190],[335,200],[272,212],[300,205],[270,225],[318,225],[372,255],[420,255],[325,272],[365,280],[405,275],[467,268],[510,290],[292,297],[345,305],[385,305],[425,295],[460,300],[330,320],[370,330],[410,325],[315,345],[355,350],[500,330],[480,355],[410,380],[395,405],[340,423],[377,425],[403,455],[470,400],[430,495],[455,510],[470,465],[545,320],[530,396],[625,385],[742,607],[770,598],[757,635],[530,653],[800,405],[540,455],[350,290],[380,265],[405,290],[440,280],[365,315],[395,330],[345,335],[300,180],[310,215],[285,205],[440,310],[320,195]];
const cPurpleCore=[[570,750],[610,750],[650,750],[530,770],[570,785],[610,785],[650,785],[510,775],[550,800],[590,815],[630,815],[560,830],[610,835],[540,740],[590,740],[630,730],[580,710],[620,700],[660,760],[700,810],[680,800]];
const cMix=[[3,515,375],[3,457,383],[2,495,400],[2,587,375],[3,460,430],[3,550,430],[3,572,440],[2,560,465],[4,485,497],[3,447,550],[2,380,545],[2,705,135],[1,745,225],[1,762,382],[1,910,447],[1,985,437],[1,1150,273],[3,1150,355],[2,1315,405],[4,1210,565],[1,418,635],[1,697,643],[1,490,678],[1,535,680],[1,525,695],[1,490,733],[3,660,840],[3,635,830],[3,675,808],[1,470,775],[1,490,805],[1,520,750],[1,560,735],[1,600,720],[1,640,700],[1,680,735],[1,550,770],[1,590,770],[1,630,770],[1,670,780],[1,530,800],[1,570,800],[1,610,800],[1,650,800],[1,530,830],[1,590,830],[1,650,825],[1,550,858],[1,615,880],[1,610,895],[1,690,830],[1,720,835],[1,735,805],[1,775,800],[1,567,695],[1,615,680],[1,785,622],[1,815,650],[1,790,720],[2,793,670],[2,852,700],[2,823,928],[1,817,890],[1,397,957],[1,433,960],[1,470,990],[1,415,985],[1,600,982],[1,630,1218],[1,705,1217],[3,505,945],[3,703,1030],[3,548,1083],[3,620,1075],[3,698,1140],[5,620,1267],[5,380,755],[5,380,775],[2,380,770],[2,318,815],[5,310,800],[0,655,760],[0,698,770],[0,575,845],[3,1150,355],[1,1148,273]];
// ---- Panel (d) MCGCN-A
const dPurple=[[875,100],[900,110],[830,125],[860,125],[810,145],[845,155],[880,145],[920,150],[955,150],[825,185],[860,185],[900,180],[935,180],[970,180],[850,210],[885,215],[920,215],[960,215],[990,200],[995,235],[880,245],[915,240],[950,250],[905,265],[940,265],[895,322],[845,130],[880,125],[910,130],[825,165],[860,165],[900,160],[935,160],[850,195],[885,195],[920,195],[955,195],[870,230],[905,230],[940,230],[975,225],[920,260],[900,250],[840,110],[870,110],[830,145],[855,145],[900,145],[940,165],[870,170],[840,170],[900,195],[850,225],[880,205],[940,210],[970,200],[995,215],[975,240],[890,230],[920,245],[955,230],[900,265],[925,275]];
const dTeal0=[[850,230],[848,260],[890,278],[1015,225],[970,175]];
const dLime=[[520,315],[495,330],[495,360],[580,310],[615,310],[540,335],[580,345],[620,345],[630,320],[530,370],[570,375],[610,380],[650,370],[680,385],[515,405],[555,410],[595,410],[635,400],[680,410],[545,440],[585,440],[625,440],[665,435],[570,478],[605,470],[645,470],[680,480],[705,475],[725,433],[610,465],[620,530],[625,558],[640,585],[665,605],[665,575],[690,545],[690,570],[780,530],[800,510],[825,520],[770,555],[800,575],[835,590],[850,635],[765,635],[660,680],[835,722],[685,750],[660,660],[550,320],[590,325],[510,345],[550,355],[590,355],[630,355],[545,385],[590,390],[630,385],[660,390],[535,425],[570,425],[610,425],[650,420],[660,405],[515,380],[600,330],[570,330],[520,340],[520,395],[560,395],[600,400],[560,425],[600,425],[640,430],[670,450],[640,450],[610,450],[575,460],[660,460],[690,420],[660,370],[620,370],[590,370],[505,370]];
const dYellow=[[403,648],[420,665],[455,640],[470,645],[415,685],[452,688],[580,630],[530,650],[560,650],[600,650],[490,685],[525,680],[560,680],[600,680],[510,710],[545,710],[580,705],[565,730],[610,715],[640,695],[625,580],[640,610],[700,600],[680,640],[742,672],[680,670],[763,827],[685,760],[545,640],[510,670],[545,665],[580,665],[615,665],[500,700],[530,695],[565,695],[600,700],[540,725],[580,640],[430,650],[425,680]];
const dDark=[[955,510],[1010,505],[1045,505],[985,520],[1055,520],[960,550],[1010,545],[1045,545],[965,580],[1060,580],[930,590],[1060,605],[1000,610],[1055,635],[870,600],[900,615],[935,620],[960,635],[885,650],[920,650],[995,650],[1020,670],[1040,700],[880,695],[910,680],[950,680],[985,680],[900,720],[950,705],[975,735],[1000,730],[995,760],[840,610],[810,635],[780,660],[810,660],[830,670],[730,585],[750,605],[745,640],[705,635],[660,625],[655,705],[770,732],[855,740],[905,750],[1085,750],[1100,720],[1095,770],[1125,790],[1170,905],[1120,945],[950,975],[965,1005],[920,1100],[965,1135],[855,868],[845,855],[695,852],[798,818],[815,535],[1040,805],[610,680],[985,505],[1020,510],[970,535],[1030,530],[995,530],[980,565],[1050,565],[945,600],[905,650],[935,650],[950,660],[970,660],[920,700],[895,670],[960,705],[985,710],[820,640],[795,650],[800,680],[830,645],[860,610],[1010,650],[1030,690],[1000,515],[1040,525],[955,530],[990,560],[1060,550],[1025,565],[965,600],[950,630],[930,630],[900,635],[880,670],[930,670],[965,690],[1000,670],[800,620],[820,625],[790,670],[770,670],[830,655]];
const dGreen=[[1342,660],[1292,670],[1270,685],[1320,690],[1370,680],[1420,712],[1280,725],[1320,725],[1360,720],[1400,720],[1250,750],[1290,755],[1330,755],[1370,755],[1410,745],[1470,750],[1218,773],[1275,790],[1320,790],[1360,785],[1430,780],[1470,790],[1515,780],[1235,815],[1270,825],[1320,825],[1410,815],[1450,820],[1500,815],[1250,860],[1295,860],[1465,850],[1495,835],[1370,855],[1340,875],[1385,875],[1325,900],[1365,900],[1410,885],[1310,910],[1350,920],[1385,935],[1425,905],[1120,735],[1150,730],[1175,760],[1145,770],[1160,805],[1155,840],[1030,237],[1115,942],[1135,975],[1180,985],[1220,960],[1175,915],[680,855],[1070,925],[1040,915],[905,765],[682,645],[1065,805],[1090,825],[1300,700],[1345,700],[1380,700],[1300,740],[1340,740],[1380,735],[1410,730],[1265,770],[1305,770],[1345,770],[1385,770],[1425,760],[1450,790],[1490,790],[1250,790],[1295,810],[1425,800],[1465,805],[1440,830],[1480,825],[1365,880],[1350,900],[1380,905],[1370,925],[1400,895],[1155,750],[1130,745],[1160,780],[1300,680],[1330,670],[1370,700],[1270,745],[1400,700],[1395,740],[1320,710],[1280,760],[1290,790],[1340,800],[1380,800],[1410,790],[1450,770],[1500,800],[1470,770],[1425,830],[1350,860],[1385,860],[1335,905],[1405,905],[1260,810],[1310,800]];
const dBlue=[[218,838],[288,830],[320,840],[260,845],[195,875],[235,875],[275,870],[310,870],[345,865],[370,870],[415,840],[395,860],[432,877],[155,920],[195,910],[235,910],[270,900],[320,895],[100,955],[120,945],[145,955],[185,945],[225,945],[265,935],[410,915],[440,925],[350,940],[385,945],[95,995],[130,985],[170,985],[210,985],[235,985],[290,960],[320,950],[360,975],[400,975],[90,1018],[120,1015],[175,1015],[300,990],[335,1000],[370,1000],[145,1040],[170,1047],[205,1030],[235,1030],[203,1058],[258,1048],[270,1025],[310,1040],[340,1030],[385,1030],[415,1030],[355,1065],[400,1060],[440,1060],[465,1070],[350,1095],[385,1090],[420,1085],[450,1075],[370,1105],[230,895],[260,880],[295,860],[300,840],[215,930],[250,915],[290,905],[170,935],[205,965],[245,965],[135,970],[175,965],[115,985],[150,1000],[200,1005],[220,1010],[385,985],[370,955],[395,1005],[410,955],[320,970],[300,1015],[340,1055],[415,1075],[380,1060],[400,1090],[260,860],[315,855],[340,885],[240,890],[205,890],[300,890],[270,920],[230,925],[195,930],[155,945],[160,975],[125,965],[105,975],[220,960],[190,990],[160,1010],[130,1010],[195,1020],[250,1000],[280,1010],[320,1020],[360,1020],[400,1000],[385,960],[350,990],[420,1060],[430,1080],[360,1085],[400,1100]];
const dTeal=[[825,805],[795,835],[825,835],[790,865],[680,860],[680,890],[685,925],[715,905],[750,890],[880,855],[935,893],[860,895],[810,910],[850,925],[895,920],[930,925],[775,930],[810,945],[850,955],[890,955],[945,945],[710,965],[677,980],[760,960],[800,975],[840,985],[880,985],[920,975],[985,1010],[710,1030],[800,1010],[850,1020],[895,1010],[880,1040],[915,1040],[730,1060],[770,1055],[810,1050],[960,1055],[995,1055],[1035,1065],[1065,1080],[740,1095],[780,1090],[830,1090],[870,1080],[905,1075],[945,1085],[985,1075],[1040,1095],[1075,1105],[700,1105],[730,1125],[770,1130],[810,1125],[855,1115],[895,1120],[940,1125],[1010,1125],[1050,1115],[1110,1105],[1130,1135],[1090,1140],[735,1155],[775,1160],[815,1160],[855,1155],[895,1170],[985,1140],[1050,1150],[1005,1165],[1085,1165],[720,1190],[760,1190],[800,1190],[840,1190],[880,1195],[920,1185],[960,1185],[1010,1200],[775,1225],[815,1225],[855,1225],[925,1225],[965,1225],[1005,1235],[775,1255],[810,1265],[850,1265],[905,1255],[945,1260],[985,1265],[1035,1265],[800,1285],[850,1295],[905,1300],[945,1295],[985,1300],[1020,1300],[1045,1310],[920,1320],[960,1330],[1000,1330],[1030,1040],[1040,918],[1025,920],[1150,925],[1190,950],[1095,980],[1135,1000],[1175,1005],[1095,1020],[1150,1030],[1195,1010],[1165,1040],[1100,1055],[1155,1060],[1080,830],[1040,785],[985,800],[1005,770],[710,705],[725,705],[800,715],[850,735],[880,735],[715,672],[995,630],[760,563],[785,540],[795,940],[830,940],[870,940],[915,940],[780,970],[815,970],[860,970],[895,970],[835,1000],[870,1000],[910,1000],[750,1070],[790,1070],[850,1070],[755,1110],[790,1110],[835,1110],[875,1110],[915,1110],[755,1145],[795,1145],[835,1145],[875,1145],[915,1145],[960,1145],[740,1175],[780,1175],[820,1175],[860,1175],[900,1175],[945,1175],[985,1175],[745,1210],[790,1210],[830,1210],[870,1210],[945,1210],[985,1210],[1015,1210],[790,1240],[830,1240],[925,1240],[965,1240],[1005,1240],[925,1280],[965,1280],[1005,1280],[1030,1280],[945,1310],[985,1310],[1130,1020],[1165,1020],[1170,975],[1120,975],[1100,1130],[1060,1130],[840,930],[870,960],[885,925],[850,975],[815,990],[780,950],[760,930],[800,1000],[730,1080],[770,1080],[810,1075],[760,1110],[800,1100],[840,1100],[880,1095],[925,1095],[960,1090],[1000,1080],[1020,1090],[770,1140],[810,1140],[850,1130],[890,1140],[930,1140],[750,1170],[790,1160],[840,1165],[880,1165],[925,1165],[770,1195],[810,1205],[850,1200],[895,1205],[935,1200],[975,1195],[1000,1215],[1020,1225],[800,1245],[850,1245],[945,1240],[985,1240],[940,1275],[985,1280],[1025,1290],[960,1310],[1000,1315],[815,1280],[830,1285],[925,1305]];
const dMix=[[3,682,643],[3,712,670],[3,680,645],[2,695,525],[1,720,537],[3,760,565],[3,785,540],[6,630,560],[5,625,558],[1,1013,590],[1,705,395],[2,610,480],[2,712,490],[1,930,790],[3,1005,772],[2,975,808],[1,960,808],[3,1190,733],[1,1278,848],[2,1272,730],[3,800,715],[5,835,722],[6,763,827],[3,752,818],[1,1135,965],[1,708,940],[1,735,955],[1,760,990],[3,710,965],[2,830,1023],[5,743,880],[5,372,893],[2,415,1030],[1,320,1020],[1,360,1005],[1,425,937],[0,438,945],[1,420,980],[3,395,1012],[3,380,1060],[3,400,1115],[1,442,1092],[0,372,1005],[0,920,1100],[3,1005,772],[4,680,855],[4,1180,985],[4,1135,975],[4,1220,962],[1,895,320],[0,918,307],[0,950,238],[0,935,270],[5,885,265],[4,1030,237]];
const labels=["a","b","c","d"];
const names=["MLP","DeepWalk","GCN","MCGCN-A"];
const captionCenter=[645,1950,645,1970];
const captionBase=[1062,1062,2220,2220];
const panelLeft=[0,1300,0,1300];
const panelTop=[0,0,1130,1130];

const colour=d3.scaleSequential(d3.interpolateViridis).domain([0,6]);
const tag=(c,a)=>a.map(p=>[c,p[0],p[1]]);
const panels=[
 [].concat(tag(3,aTeal),tag(3,aTealCore),tag(3,aTealFill),tag(2,aBlue),tag(2,aBlueCore),tag(2,aBlueFill),tag(1,aPurple),tag(1,aPurpleCore),tag(5,aLime),tag(6,aYellow),tag(4,aGreen),tag(4,aGreenCore),tag(0,aDark),tag(0,aDarkCore),aMix),
 [].concat(tag(3,bTeal),tag(2,bBlue),tag(4,bGreen),tag(0,bDark),tag(1,bPurple),tag(5,bLime),tag(6,bYellow),bMix),
 [].concat(tag(6,cYellow),tag(0,cDark),tag(3,cTeal),tag(3,cTealCore),tag(2,cBlue),tag(4,cGreen),tag(5,cLime),tag(1,cPurpleCore),cMix),
 [].concat(tag(3,dTeal0),tag(1,dPurple),tag(6,dYellow),tag(5,dLime),tag(3,dTeal),tag(0,dDark),tag(4,dGreen),tag(2,dBlue),dMix)
];
const svg=d3.select("#c");
panels.forEach((pts,i)=>{
  const x=d3.scaleLinear().domain([0,1560]).range([panelLeft[i],panelLeft[i]+1300]);
  const y=d3.scaleLinear().domain([0,1565]).range([panelTop[i],panelTop[i]+1130]);
  svg.append("g").selectAll("circle").data(pts).join("circle")
    .attr("cx",d=>x(d[1])).attr("cy",d=>y(d[2])).attr("r",13.5).attr("fill",d=>colour(d[0]));
  const t=svg.append("text").attr("x",captionCenter[i]).attr("y",captionBase[i])
    .attr("text-anchor","middle").attr("font-family","'Liberation Serif',serif").attr("font-size",69).attr("fill","#000");
  t.append("tspan").text("(");
  t.append("tspan").attr("font-weight","bold").text(labels[i]);
  t.append("tspan").text(")");
  t.append("tspan").attr("dx",30).text(names[i]);
});
</script></body></html>
